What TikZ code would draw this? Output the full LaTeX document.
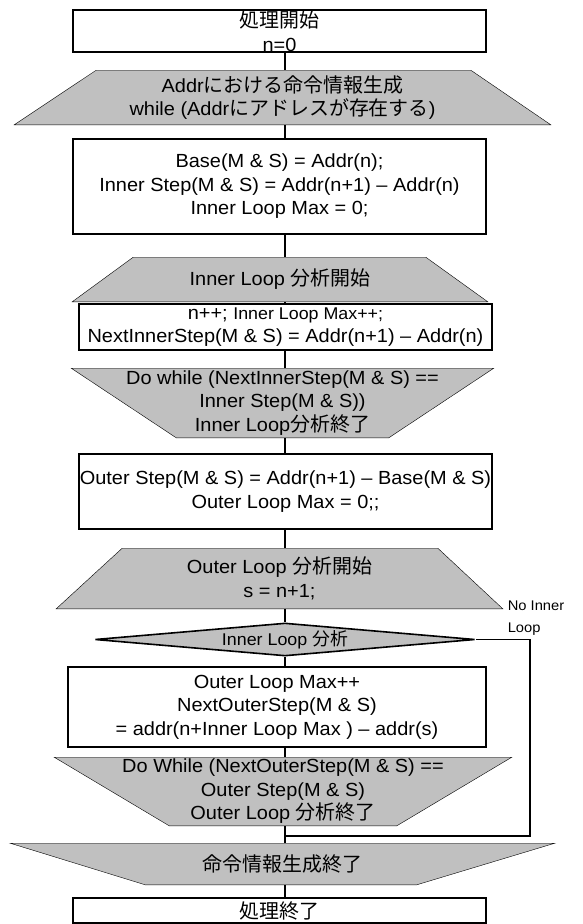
\documentclass[tikz,border=0pt]{standalone}
\usepackage{fontspec}
\setmainfont{Liberation Sans}[FakeStretch=1.05]
\newfontfamily\jp{Noto Sans CJK JP}[Scale=1.05]
\newcommand{\ja}[1]{{\jp #1}}
\usetikzlibrary{shapes.geometric,backgrounds}
\definecolor{loopgray}{RGB}{192,192,192}

\begin{document}
\begin{tikzpicture}[x=1pt,y=-1pt,line width=1.6pt,
        txt/.style={font=\fontsize{19}{23.5}\selectfont,align=center,inner sep=0pt},
        proc/.style={txt,draw,fill=white,minimum width=413pt},
        loop/.style={txt},
        loopfill/.style={draw,fill=loopgray},
        small/.style={font=\fontsize{17}{20}\selectfont}]
    \useasboundingbox (0,0) rectangle (582,924);
    \coordinate (spine) at (285,0);

    \node[proc,minimum height=42pt] (start) at (279.5,31) {\ja{処理開始}\\n=0};
    \node[loop,minimum width=535pt,minimum height=53pt] (t1) at (282.5,97.5)
        {Addr\ja{における命令情報生成}\\while (Addr\ja{にアドレスが存在する})};
    \node[proc,minimum height=95pt] (base) at (279.5,186.5)
        {Base(M \& S) = Addr(n);\\Inner Step(M \& S) = Addr(n+1) – Addr(n)\\Inner Loop Max = 0;};
    \node[loop,minimum width=414pt,minimum height=43pt] (t2) at (280,279.5) {Inner Loop \ja{分析開始}};
    \node[proc,minimum height=46pt] (inner) at (285.5,327)
        {n++; {\fontsize{17}{23.5}\selectfont Inner Loop Max++;}\\NextInnerStep(M \& S) = Addr(n+1) – Addr(n)};
    \node[loop,minimum width=421pt,minimum height=68pt] (t3) at (282.5,403)
        {Do while (NextInnerStep(M \& S) ==\\Inner Step(M \& S))\\Inner Loop\ja{分析終了}};
    \node[proc,minimum height=75pt] (outer) at (285.5,491.5)
        {Outer Step(M \& S) = Addr(n+1) – Base(M \& S)\\Outer Loop Max = 0;;};
    \node[loop,minimum width=445pt,minimum height=59pt] (t4) at (279.5,578.5)
        {Outer Loop \ja{分析開始}\\s = n+1;};
    \node[diamond,draw,fill=loopgray,aspect=11.5,minimum width=380pt,minimum height=33pt,
        inner sep=0pt,small] (d) at (285,639.5) {Inner Loop \ja{分析}};
    \node[proc,minimum width=418pt,minimum height=80pt] (omax) at (277,707)
        {Outer Loop Max++\\NextOuterStep(M \& S)\\= addr(n+Inner Loop Max ) – addr(s)};
    \node[loop,minimum width=456pt,minimum height=67pt] (t5) at (283,791.5)
        {Do While (NextOuterStep(M \& S) ==\\Outer Step(M \& S)\\Outer Loop \ja{分析終了}};
    \node[loop,minimum width=543pt,minimum height=40pt] (t6) at (282.5,864) {\ja{命令情報生成終了}};
    \node[proc,minimum height=25pt] (stop) at (279.5,910.5) {\ja{処理終了}};
    \node[font=\fontsize{14}{22}\selectfont,align=left,inner sep=0pt,anchor=north west] (noloop) at (507,600) {No Inner\\Loop};

    \begin{scope}[on background layer]
        \draw[loopfill] (t1.south west) -- (t1.south east) -- ([xshift=-80pt]t1.north east) -- ([xshift=82pt]t1.north west) -- cycle;
        \draw[loopfill] (t2.south west) -- (t2.south east) -- ([xshift=-62pt]t2.north east) -- ([xshift=61pt]t2.north west) -- cycle;
        \draw[loopfill] (t3.north west) -- (t3.north east) -- ([xshift=-105pt]t3.south east) -- ([xshift=105pt]t3.south west) -- cycle;
        \draw[loopfill] (t4.south west) -- (t4.south east) -- ([xshift=-65pt]t4.north east) -- ([xshift=66pt]t4.north west) -- cycle;
        \draw[loopfill] (t5.north west) -- (t5.north east) -- ([xshift=-115pt]t5.south east) -- ([xshift=115pt]t5.south west) -- cycle;
        \draw[loopfill] (t6.north west) -- (t6.north east) -- ([xshift=-138pt]t6.south east) -- ([xshift=135pt]t6.south west) -- cycle;
    \end{scope}

    \draw (start.south -| spine) -- (t1.north -| spine);
    \draw (t1.south -| spine) -- (base.north -| spine);
    \draw (base.south -| spine) -- (t2.north -| spine);
    \draw (t2.south -| spine) -- (inner.north -| spine);
    \draw (inner.south -| spine) -- (t3.north -| spine);
    \draw (t3.south -| spine) -- (outer.north -| spine);
    \draw (outer.south -| spine) -- (t4.north -| spine);
    \draw (t4.south -| spine) -- (d.north);
    \draw (d.south) -- (omax.north -| spine);
    \draw (omax.south -| spine) -- (t5.north -| spine);
    \draw (t5.south -| spine) -- (t6.north -| spine);
    \draw (t6.south -| spine) -- (stop.north -| spine);
    \coordinate (skip) at (530,836);
    \draw (d.east) -| (skip) -- (skip -| spine);
\end{tikzpicture}
\end{document}
